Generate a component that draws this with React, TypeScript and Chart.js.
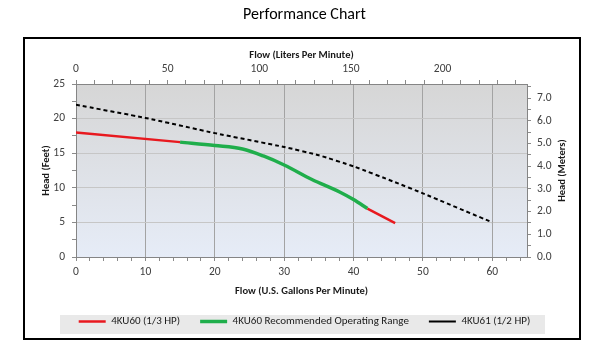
import React, { useEffect, useRef } from 'react';
import { Chart, registerables } from 'chart.js';

Chart.register(...registerables);

const chartTitle = 'Performance Chart';
const seriesNames = ['4KU60 (1/3 HP)', '4KU60 Recommended Operating Range', '4KU61 (1/2 HP)'];
const axisTitles = {
  bottom: 'Flow (U.S. Gallons Per Minute)',
  top: 'Flow (Liters Per Minute)',
  left: 'Head (Feet)',
  right: 'Head (Meters)',
};

// 4KU60 (1/3 HP) — red, with a gap where the recommended range is shown
const redFlow = [0, 15, 28, 42, 46];
const redHead = [18.0, 16.6, null, 7.0, 4.9];

// 4KU60 recommended operating range — green
const greenFlow = [15, 20, 24, 27, 30, 34, 38, 40, 42];
const greenHead = [16.6, 16.1, 15.6, 14.6, 13.3, 11.2, 9.4, 8.3, 7.0];

// 4KU61 (1/2 HP) — black dashed
const blackFlow = [0, 10, 20, 30, 35, 40, 46, 50, 60];
const blackHead = [22.0, 20.1, 17.9, 15.9, 14.7, 13.1, 10.8, 9.2, 5.0];

const flowMax = 65;
const headMax = 25;
const GPM_TO_LPM = 3.78541;
const FT_TO_M = 0.3048;

const FONT = "Carlito, 'Liberation Sans', Arial, sans-serif";

const toPoints = (xs: number[], ys: (number | null)[]) => xs.map((x, i) => ({ x, y: ys[i] }));

const decor = {
  id: 'decor',
  beforeDraw(chart: any) {
    const { ctx, chartArea: a } = chart;
    ctx.save();
    const g = ctx.createLinearGradient(0, a.top, 0, a.bottom);
    g.addColorStop(0, '#d6d6d6');
    g.addColorStop(1, '#e6ecf7');
    ctx.fillStyle = g;
    ctx.fillRect(a.left, a.top, a.right - a.left, a.bottom - a.top);
    // legend band
    const lg = chart.legend;
    ctx.fillStyle = '#e9e9e9';
    ctx.fillRect(a.left - 16, lg.top + 19, a.right - a.left + 34, 19);
    ctx.restore();
  },
  afterDraw(chart: any) {
    const { ctx, chartArea: a } = chart;
    ctx.save();
    // outer frame
    ctx.strokeStyle = '#000';
    ctx.lineWidth = 2;
    ctx.strokeRect(24, 38, 556, 301);
    // right axis title, reading bottom-to-top
    ctx.translate(562, (a.top + a.bottom) / 2);
    ctx.rotate(-Math.PI / 2);
    ctx.fillStyle = '#1a1a1a';
    ctx.font = `bold 10.5px ${FONT}`;
    ctx.textAlign = 'center';
    ctx.textBaseline = 'middle';
    ctx.fillText(axisTitles.right, 0, 0);
    ctx.restore();
  },
};

const isMult = (v: number, m: number) => Math.abs(v / m - Math.round(v / m)) < 1e-6;

export default function App() {
  const ref = useRef<HTMLCanvasElement>(null);
  useEffect(() => {
    if (!ref.current) return;
    const tickFont = { family: FONT, size: 11.5 };
    const titleFont = { family: FONT, size: 10.5, weight: 'bold' as const };
    const tickColor = '#404040';
    const chart = new Chart(ref.current, {
      type: 'line',
      data: {
        datasets: [
          {
            label: seriesNames[0],
            data: toPoints(redFlow, redHead),
            borderColor: '#e8191f',
            backgroundColor: '#e8191f',
            borderWidth: 2.5,
            pointRadius: 0,
            tension: 0,
            spanGaps: false,
            xAxisID: 'x',
            yAxisID: 'y',
          },
          {
            label: seriesNames[1],
            data: toPoints(greenFlow, greenHead),
            borderColor: '#1fae4b',
            backgroundColor: '#1fae4b',
            borderWidth: 3.5,
            pointRadius: 0,
            cubicInterpolationMode: 'monotone',
            xAxisID: 'x',
            yAxisID: 'y',
          },
          {
            label: seriesNames[2],
            data: toPoints(blackFlow, blackHead),
            borderColor: '#000000',
            backgroundColor: '#000000',
            borderWidth: 2,
            borderDash: [4, 3],
            pointRadius: 0,
            tension: 0.15,
            xAxisID: 'x',
            yAxisID: 'y',
          },
        ],
      },
      options: {
        animation: false,
        responsive: false,
        maintainAspectRatio: false,
        layout: { padding: { top: 0, left: 37, right: 30, bottom: 16 } },
        plugins: {
          title: {
            display: true,
            text: chartTitle,
            color: '#000',
            font: { family: FONT, size: 16, weight: 'normal' },
            padding: { top: 5.4, bottom: 15.4 },
          },
          legend: {
            display: true,
            position: 'bottom',
            labels: {
              usePointStyle: true,
              pointStyle: 'line',
              pointStyleWidth: 27,
              padding: 20,
              color: '#1a1a1a',
              font: { family: FONT, size: 11 },
            },
          },
          tooltip: { enabled: false },
        },
        scales: {
          x: {
            type: 'linear',
            position: 'bottom',
            min: 0,
            max: flowMax,
            afterFit: (s: any) => { s.height = 39; },
            ticks: {
              stepSize: 2,
              includeBounds: false,
              autoSkip: false,
              maxRotation: 0,
              minRotation: 0,
              padding: 4,
              color: tickColor,
              font: tickFont,
              callback: (v: any) => (isMult(v, 10) ? String(v) : ''),
            },
            grid: {
              display: true,
              drawOnChartArea: true,
              tickLength: 4,
              color: (c: any) => (c.tick && isMult(c.tick.value, 10) ? '#a3a3a3' : 'rgba(0,0,0,0)'),
              tickColor: '#8a8a8a',
            },
            border: { display: true, color: '#858585', width: 1 },
            title: {
              display: true,
              text: axisTitles.bottom,
              color: '#1a1a1a',
              font: titleFont,
              padding: { top: 0, bottom: -1.7 },
            },
          },
          x2: {
            type: 'linear',
            position: 'top',
            min: 0,
            max: flowMax * GPM_TO_LPM,
            afterFit: (s: any) => { s.height = 44; },
            ticks: {
              stepSize: 10,
              includeBounds: false,
              autoSkip: false,
              maxRotation: 0,
              minRotation: 0,
              padding: 4,
              color: tickColor,
              font: tickFont,
              callback: (v: any) => (isMult(v, 50) ? String(v) : ''),
            },
            grid: {
              display: true,
              drawOnChartArea: false,
              tickLength: 4,
              tickColor: '#8a8a8a',
            },
            border: { display: true, color: '#858585', width: 1 },
            title: {
              display: true,
              text: axisTitles.top,
              color: '#1a1a1a',
              font: titleFont,
              padding: { top: 8.7, bottom: 0 },
            },
          },
          y: {
            type: 'linear',
            position: 'left',
            min: 0,
            max: headMax,
            afterFit: (s: any) => { s.width = 39; },
            ticks: {
              stepSize: 2.5,
              includeBounds: false,
              autoSkip: false,
              padding: 7,
              color: tickColor,
              font: tickFont,
              callback: (v: any) => (isMult(v, 5) ? String(v) : ''),
            },
            grid: {
              display: true,
              drawOnChartArea: true,
              tickLength: 4,
              color: (c: any) => (c.tick && isMult(c.tick.value, 5) ? '#c6c6c6' : 'rgba(0,0,0,0)'),
              tickColor: '#8a8a8a',
            },
            border: { display: true, color: '#858585', width: 1 },
            title: {
              display: true,
              text: axisTitles.left,
              color: '#1a1a1a',
              font: titleFont,
              padding: { top: 3.4, bottom: 4 },
            },
          },
          y2: {
            type: 'linear',
            position: 'right',
            min: 0,
            max: headMax * FT_TO_M,
            afterFit: (s: any) => { s.width = 45; },
            ticks: {
              stepSize: 0.5,
              includeBounds: false,
              autoSkip: false,
              padding: 6,
              color: tickColor,
              font: tickFont,
              callback: (v: any) => (isMult(v, 1) ? Number(v).toFixed(1) : ''),
            },
            grid: {
              display: true,
              drawOnChartArea: false,
              tickLength: 4,
              tickColor: '#8a8a8a',
            },
            border: { display: true, color: '#858585', width: 1 },
            title: { display: false },
          },
        },
      },
      plugins: [decor],
    });
    return () => chart.destroy();
  }, []);

  return (
    <div style={{ position: 'absolute', left: 0, top: 0, width: 602, height: 353, background: '#fff' }}>
      <canvas ref={ref} width={602} height={353} style={{ display: 'block' }} />
    </div>
  );
}
